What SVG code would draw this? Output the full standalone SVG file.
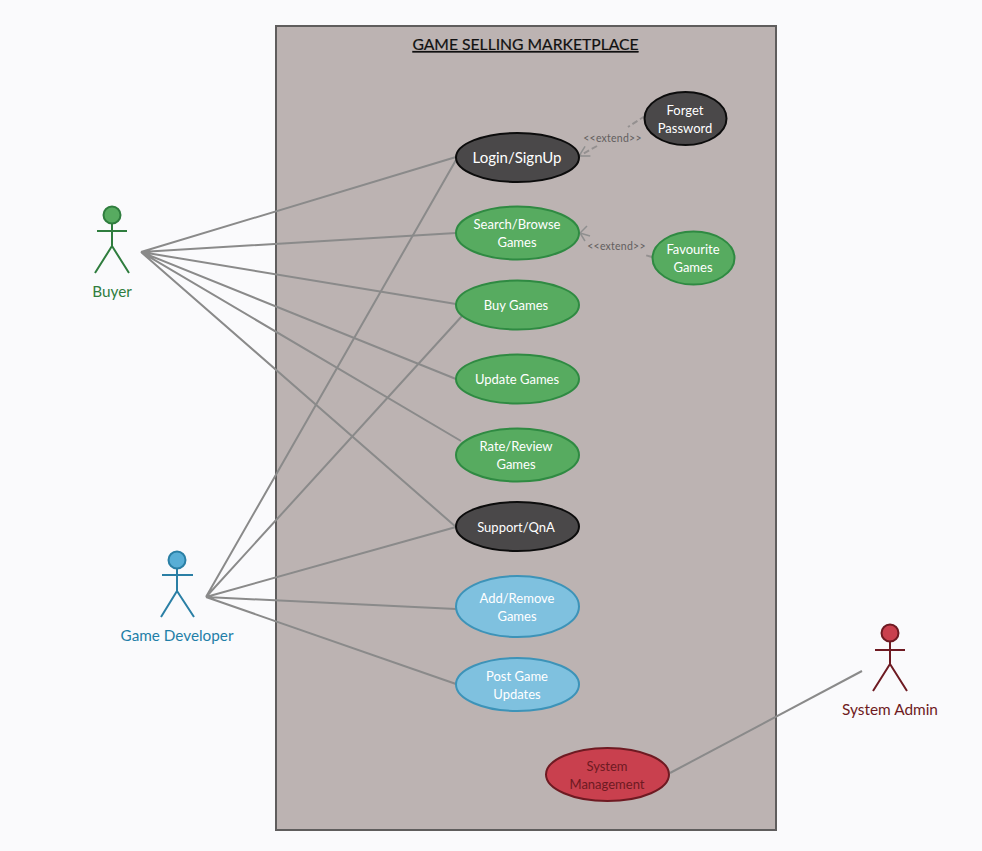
<svg xmlns="http://www.w3.org/2000/svg" width="982" height="851" viewBox="0 0 982 851">
<defs><marker id="open" markerWidth="14" markerHeight="16" refX="11" refY="8" orient="auto" markerUnits="userSpaceOnUse"><path d="M1 2.500L11 8L1 13.500" fill="none" stroke="#8f8f8f" stroke-width="1.500"/></marker></defs>
<style>
text{font-family:Lato,"Open Sans","Liberation Sans",sans-serif;text-anchor:middle}
.uc{font-size:13px;fill:#fff}
.g ellipse{fill:#57ab60;stroke:#2f8a42;stroke-width:2}
.d ellipse{fill:#4a4849;stroke:#0c0c0c;stroke-width:2}
.b ellipse{fill:#7fc1df;stroke:#3d93b8;stroke-width:2}
.r ellipse{fill:#c9404e;stroke:#6e1a22;stroke-width:2}
.r text{fill:#6e1a22}
.ln{fill:none;stroke:#8a8a8a;stroke-width:2}
.ex{fill:none;stroke:#949090;stroke-width:2;stroke-dasharray:6 3}
.lab{font-size:10.500px;fill:#625e5e;letter-spacing:.25px}
.act{fill:none;stroke-width:2}
</style>
<rect width="982" height="851" fill="#fafafc"/>
<g id="system"><rect x="276" y="26" width="500" height="804" fill="#bcb3b2" stroke="#5f5d5d" stroke-width="2"/>
<text x="525.500" y="50" font-size="15.700" fill="#111" stroke="#111" stroke-width=".2" text-decoration="underline">GAME SELLING MARKETPLACE</text></g>
<g id="connectors">
<path class="ln" d="M141 252L456 157M141 252L456 233M141 252L456 304M141 252L456 379M141 252L461 441M141 252L456 527"/>
<path class="ln" d="M206 597L456 160M206 597L462 316M206 597L456 527M206 597L456 609M206 597L456 684"/>
<path class="ln" d="M670 773L862 671"/>
<path class="ex" d="M645 116L628 127"/>
<path class="ex" d="M597 146L579 156" marker-end="url(#open)"/>
<path class="ex" d="M652 257L645 255"/>
<path d="M587 226L580 233L585 241M580 233L590 236" fill="none" stroke="#8f8f8f" stroke-width="1.500"/>
<text class="lab" x="612.500" y="141.500">&lt;&lt;extend&gt;&gt;</text>
<text class="lab" x="616.500" y="249.500">&lt;&lt;extend&gt;&gt;</text>
</g>
<g id="uc-login" class="d"><ellipse cx="517.500" cy="157.500" rx="61.500" ry="24.500"/><text class="uc" x="517" y="163" style="font-size:15px">Login/SignUp</text></g>
<g id="uc-forget" class="d"><ellipse cx="685.500" cy="118.500" rx="41" ry="26.500"/><text class="uc" x="685" y="115">Forget</text><text class="uc" x="685" y="133">Password</text></g>
<g id="uc-search" class="g"><ellipse cx="517.500" cy="233" rx="61.500" ry="26.500"/><text class="uc" x="517" y="229">Search/Browse</text><text class="uc" x="517" y="247">Games</text></g>
<g id="uc-fav" class="g"><ellipse cx="693.500" cy="258" rx="41" ry="26.500"/><text class="uc" x="693" y="254">Favourite</text><text class="uc" x="693" y="272">Games</text></g>
<g id="uc-buy" class="g"><ellipse cx="517.500" cy="305" rx="61.500" ry="24.500"/><text class="uc" x="516" y="310">Buy Games</text></g>
<g id="uc-update" class="g"><ellipse cx="517.500" cy="379" rx="61.500" ry="24.500"/><text class="uc" x="517" y="384">Update Games</text></g>
<g id="uc-rate" class="g"><ellipse cx="517.500" cy="455" rx="61.500" ry="26.500"/><text class="uc" x="516" y="451">Rate/Review</text><text class="uc" x="516" y="469">Games</text></g>
<g id="uc-support" class="d"><ellipse cx="517.500" cy="526.500" rx="61.500" ry="24.500"/><text class="uc" x="516" y="532">Support/QnA</text></g>
<g id="uc-add" class="b"><ellipse cx="517.500" cy="606.500" rx="61.500" ry="30.500"/><text class="uc" x="517" y="603">Add/Remove</text><text class="uc" x="517" y="621">Games</text></g>
<g id="uc-post" class="b"><ellipse cx="517.500" cy="684.500" rx="61.500" ry="26.500"/><text class="uc" x="517" y="681">Post Game</text><text class="uc" x="517" y="699">Updates</text></g>
<g id="uc-sys" class="r"><ellipse cx="607.500" cy="774.500" rx="61.500" ry="26.500"/><text class="uc" x="607" y="771">System</text><text class="uc" x="607" y="789">Management</text></g>
<g id="actor-buyer"><circle cx="112" cy="215" r="8.500" fill="#57ab60" stroke="#2f7d3e" stroke-width="2"/><path class="act" stroke="#2f7d3e" d="M112 224V246M97 231H127M112 246L95 273M112 246L129 273"/><text x="112" y="296.500" font-size="15.300" fill="#2f7d3e">Buyer</text></g>
<g id="actor-dev"><circle cx="177" cy="560" r="8.500" fill="#58aed6" stroke="#2a7fa5" stroke-width="2"/><path class="act" stroke="#2a7fa5" d="M177 569V591M162 575H193M177 591L161 617M177 591L194 617"/><text x="177" y="641" font-size="15.300" fill="#1f7fa8">Game Developer</text></g>
<g id="actor-admin"><circle cx="890" cy="633" r="8.500" fill="#c9404e" stroke="#6e1a22" stroke-width="2"/><path class="act" stroke="#6e1a22" d="M890 642V664M875 650H905M890 664L873 691M890 664L907 691"/><text x="890" y="715" font-size="15.400" fill="#6e1a22">System Admin</text></g>
</svg>
